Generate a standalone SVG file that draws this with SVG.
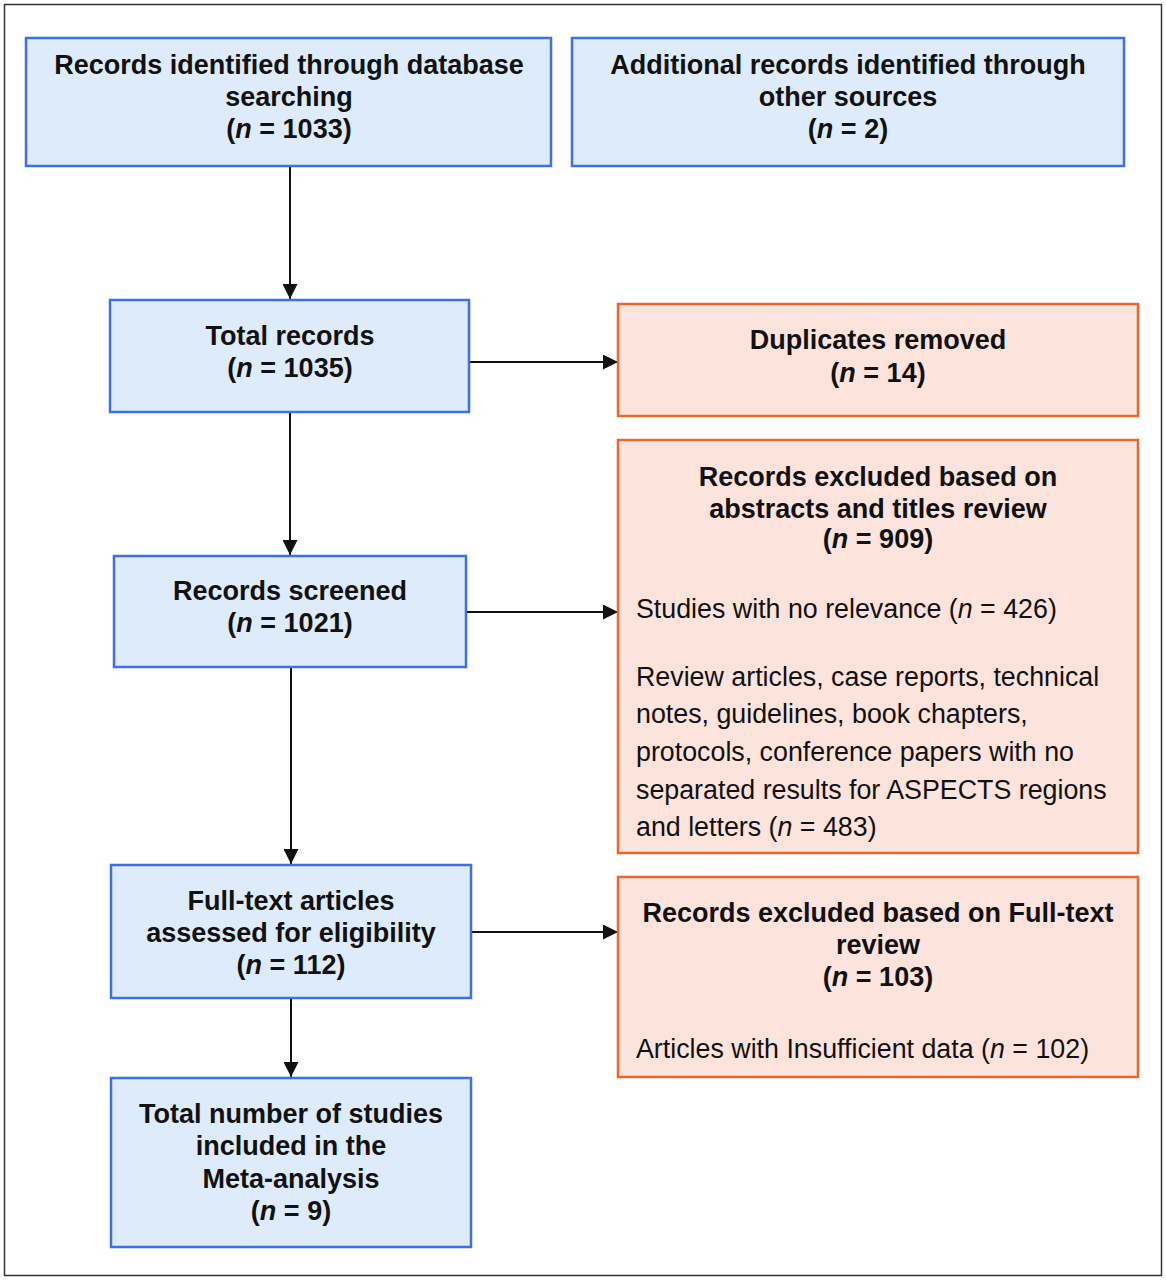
<svg xmlns="http://www.w3.org/2000/svg" width="1166" height="1280" viewBox="0 0 1166 1280">
<defs>
<style>
.blue{fill:#ddebfb;stroke:#3f6fe2;stroke-width:2.5}
.orange{fill:#fce3dc;stroke:#e8682c;stroke-width:2.5}
.b{font-family:"Liberation Sans",Arial,sans-serif;font-weight:bold;font-size:27px;fill:#111;text-anchor:middle}
.r{font-family:"Liberation Sans",Arial,sans-serif;font-size:26.8px;fill:#111}
.conn{stroke:#111;stroke-width:2;fill:none}
</style>
<marker id="ah2" markerWidth="15" markerHeight="15" refX="15" refY="7.5" orient="auto" markerUnits="userSpaceOnUse" viewBox="0 0 15 15">
<path d="M0,0 L15,7.5 L0,15 z" fill="#111"/>
</marker>
</defs>
<rect x="0" y="0" width="1166" height="1280" fill="#fff"/>
<rect x="4.5" y="4.5" width="1157" height="1271" fill="#fff" stroke="#333" stroke-width="1.5"/>

<g id="connectors">
<line class="conn" x1="290" y1="167" x2="290" y2="299" marker-end="url(#ah2)"/>
<line class="conn" x1="290" y1="413" x2="290" y2="555" marker-end="url(#ah2)"/>
<line class="conn" x1="291" y1="668" x2="291" y2="864" marker-end="url(#ah2)"/>
<line class="conn" x1="291" y1="999" x2="291" y2="1077" marker-end="url(#ah2)"/>
<line class="conn" x1="469" y1="362" x2="618" y2="362" marker-end="url(#ah2)"/>
<line class="conn" x1="466" y1="612" x2="618" y2="612" marker-end="url(#ah2)"/>
<line class="conn" x1="471" y1="932" x2="618" y2="932" marker-end="url(#ah2)"/>
</g>

<g id="n1">
<rect class="blue" x="26" y="38" width="525" height="128"/>
<text class="b" x="289" y="74">Records identified through database</text>
<text class="b" x="289" y="106">searching</text>
<text class="b" x="289" y="138">(<tspan font-style="italic">n</tspan> = 1033)</text>
</g>

<g id="n2">
<rect class="blue" x="572" y="38" width="552" height="128"/>
<text class="b" x="848" y="74">Additional records identified through</text>
<text class="b" x="848" y="106">other sources</text>
<text class="b" x="848" y="138">(<tspan font-style="italic">n</tspan> = 2)</text>
</g>

<g id="n3">
<rect class="blue" x="110" y="300" width="359" height="112"/>
<text class="b" x="290" y="345">Total records</text>
<text class="b" x="290" y="377">(<tspan font-style="italic">n</tspan> = 1035)</text>
</g>

<g id="n4">
<rect class="orange" x="618" y="304" width="520" height="112"/>
<text class="b" x="878" y="349">Duplicates removed</text>
<text class="b" x="878" y="382">(<tspan font-style="italic">n</tspan> = 14)</text>
</g>

<g id="n5">
<rect class="orange" x="618" y="440" width="520" height="413"/>
<text class="b" x="878" y="486">Records excluded based on</text>
<text class="b" x="878" y="518">abstracts and titles review</text>
<text class="b" x="878" y="548" font-size="23">(<tspan font-style="italic">n</tspan> = 909)</text>
<text class="r" x="636" y="618">Studies with no relevance (<tspan font-style="italic">n</tspan> = 426)</text>
<text class="r" x="636" y="686">Review articles, case reports, technical</text>
<text class="r" x="636" y="723">notes, guidelines, book chapters,</text>
<text class="r" x="636" y="761">protocols, conference papers with no</text>
<text class="r" x="636" y="799">separated results for ASPECTS regions</text>
<text class="r" x="636" y="836">and letters (<tspan font-style="italic">n</tspan> = 483)</text>
</g>

<g id="n6">
<rect class="blue" x="114" y="556" width="352" height="111"/>
<text class="b" x="290" y="600">Records screened</text>
<text class="b" x="290" y="632">(<tspan font-style="italic">n</tspan> = 1021)</text>
</g>

<g id="n7">
<rect class="blue" x="111" y="865" width="360" height="133"/>
<text class="b" x="291" y="910">Full-text articles</text>
<text class="b" x="291" y="942">assessed for eligibility</text>
<text class="b" x="291" y="974">(<tspan font-style="italic">n</tspan> = 112)</text>
</g>

<g id="n8">
<rect class="orange" x="618" y="877" width="520" height="200"/>
<text class="b" x="878" y="922">Records excluded based on Full-text</text>
<text class="b" x="878" y="954">review</text>
<text class="b" x="878" y="986">(<tspan font-style="italic">n</tspan> = 103)</text>
<text class="r" x="636" y="1058">Articles with Insufficient data (<tspan font-style="italic">n</tspan> = 102)</text>
</g>

<g id="n9">
<rect class="blue" x="111" y="1078" width="360" height="169"/>
<text class="b" x="291" y="1123">Total number of studies</text>
<text class="b" x="291" y="1155">included in the</text>
<text class="b" x="291" y="1188">Meta-analysis</text>
<text class="b" x="291" y="1220">(<tspan font-style="italic">n</tspan> = 9)</text>
</g>
</svg>
